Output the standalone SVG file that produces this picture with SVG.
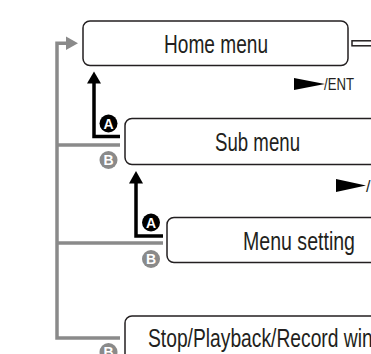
<svg xmlns="http://www.w3.org/2000/svg" width="371" height="354" viewBox="0 0 371 354">
<defs>
<style>
.box{fill:#fff;stroke:#231f20;stroke-width:1.5}
.lbl{font-family:"Liberation Sans",Arial,sans-serif;font-size:26px;fill:#231f20}
.key{font-family:"Liberation Sans",Arial,sans-serif;font-size:16px;fill:#231f20}
.gray{fill:none;stroke:#8a8a8a;stroke-width:3.5}
.blk{fill:none;stroke:#000;stroke-width:3.5}
.ca{fill:#000}
.cb{fill:#8a8a8a}
.ct{font-family:"Liberation Sans",Arial,sans-serif;font-size:14px;font-weight:bold;fill:#fff;text-anchor:middle}
</style>
</defs>
<rect width="371" height="354" fill="#fff"/>
<g id="connectors">
<polyline class="gray" points="120,338 57,338 57,43.3 67,43.3"/>
<polygon points="66,36.5 78,43.3 66,50" fill="#8a8a8a"/>
<line class="gray" x1="57" y1="145" x2="120" y2="145"/>
<line class="gray" x1="57" y1="243" x2="163" y2="243"/>
<polyline class="blk" points="120,136.5 94,136.5 94,82"/>
<polygon points="87,83.5 94,71.5 101,83.5" fill="#000"/>
<polyline class="blk" points="163,236 136,236 136,182"/>
<polygon points="129,183.5 136,171 143,183.5" fill="#000"/>
<rect x="352" y="40.8" width="30" height="5" fill="#fff" stroke="#231f20" stroke-width="1.5"/>
<circle class="ca" cx="108.5" cy="123.5" r="9"/><text class="ct" x="108.5" y="128.5">A</text>
<circle class="cb" cx="108.5" cy="160" r="9"/><text class="ct" x="108.5" y="165">B</text>
<circle class="ca" cx="151" cy="222.5" r="9"/><text class="ct" x="151" y="227.5">A</text>
<circle class="cb" cx="151" cy="259" r="9"/><text class="ct" x="151" y="264">B</text>
<circle class="cb" cx="108.5" cy="352" r="9"/><text class="ct" x="108.5" y="357">B</text>
</g>
<g id="home">
<rect class="box" x="83" y="21" width="265" height="44.5" rx="7"/>
<text class="lbl" x="164" y="52.5" textLength="104" lengthAdjust="spacingAndGlyphs">Home menu</text>
</g>
<g id="key1">
<polygon points="294,78 325,84 294,90" fill="#000"/>
<text class="key" x="324" y="90" textLength="30" lengthAdjust="spacingAndGlyphs">/ENT</text>
</g>
<g id="sub">
<rect class="box" x="125" y="118.5" width="290" height="46" rx="7"/>
<text class="lbl" x="215" y="151" textLength="85" lengthAdjust="spacingAndGlyphs">Sub menu</text>
</g>
<g id="key2">
<polygon points="336,179 366,185.5 336,192" fill="#000"/>
<text class="key" x="366" y="192">/</text>
</g>
<g id="menu">
<rect class="box" x="167" y="217.5" width="290" height="45" rx="7"/>
<text class="lbl" x="243" y="250" textLength="112" lengthAdjust="spacingAndGlyphs">Menu setting</text>
</g>
<g id="stop">
<rect class="box" x="125" y="316" width="300" height="46" rx="7"/>
<text class="lbl" x="148" y="346.5" textLength="260" lengthAdjust="spacingAndGlyphs">Stop/Playback/Record window</text>
</g>
</svg>
